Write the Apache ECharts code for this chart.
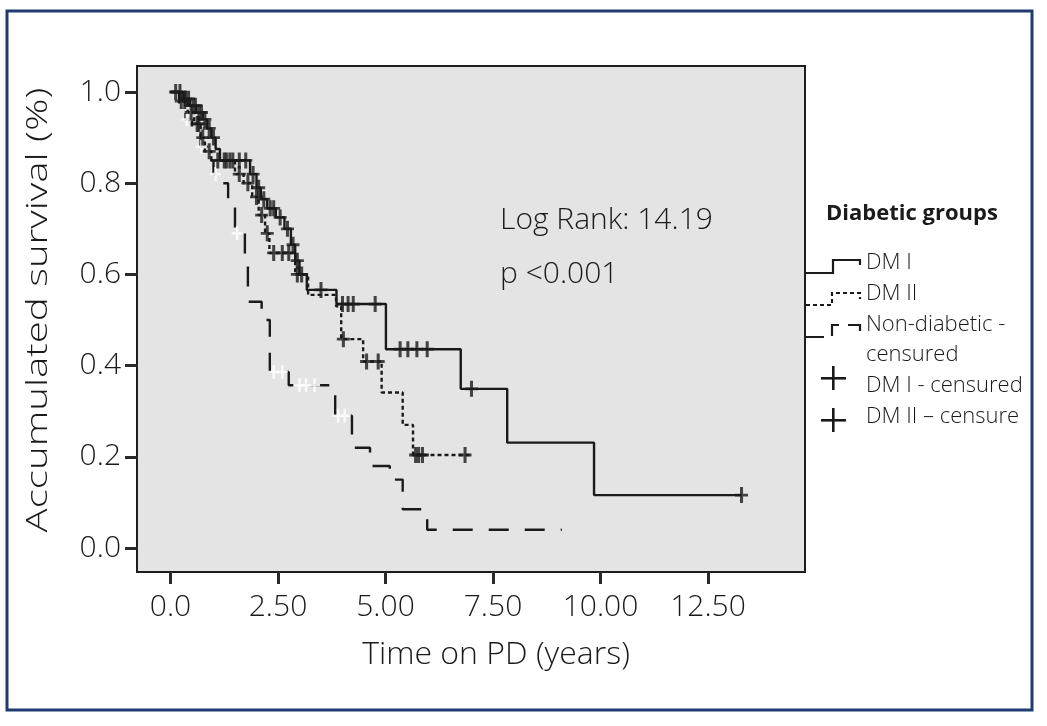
<!DOCTYPE html>
<html>
<head>
<meta charset="utf-8">
<script src="https://cdn.jsdelivr.net/npm/echarts@6/dist/echarts.min.js"></script>
<style>
html,body{margin:0;padding:0;background:#fff;}
#chart{width:1047px;height:726px;}
</style>
</head>
<body>
<div id="chart"></div>
<script>
// ---- data ----
const xTicks = [0, 2.5, 5, 7.5, 10, 12.5];
const xTickLabels = ['0.0', '2.50', '5.00', '7.50', '10.00', '12.50'];
const yTicks = [0, 0.2, 0.4, 0.6, 0.8, 1.0];
const yTickLabels = ['0.0', '0.2', '0.4', '0.6', '0.8', '1.0'];

// DM I (solid)
const dm1Times    = [0, 0.3, 0.45, 0.6, 0.75, 0.85, 0.95, 1.05, 1.15, 1.85, 2.0, 2.1, 2.25, 2.45, 2.65, 2.8, 2.9, 3.0, 3.17, 3.86, 5.01, 6.75, 7.83, 9.85];
const dm1Survival = [1.0, 0.985, 0.97, 0.955, 0.94, 0.92, 0.9, 0.875, 0.85, 0.82, 0.79, 0.765, 0.745, 0.725, 0.7, 0.665, 0.63, 0.6, 0.566, 0.535, 0.436, 0.349, 0.231, 0.116];
const dm1EndTime = 13.28;
const dm1Censored = [0.12, 0.22, 0.35, 0.42, 0.52, 0.58, 0.66, 0.72, 0.8, 0.9, 1.0, 1.25, 1.38, 1.45, 1.6, 1.75, 1.92, 2.05, 2.17, 2.32, 2.4, 2.55, 2.72, 2.85, 2.95, 3.5, 4.0, 4.13, 4.25, 4.76, 5.34, 5.52, 5.73, 5.97, 7.0, 13.28];

// DM II (dotted)
const dm2Times    = [0, 0.2, 0.4, 0.55, 0.7, 0.8, 0.95, 1.5, 1.7, 1.9, 2.05, 2.2, 2.3, 2.9, 3.2, 3.85, 3.97, 4.48, 4.91, 5.4, 5.64];
const dm2Survival = [1.0, 0.98, 0.955, 0.93, 0.9, 0.87, 0.85, 0.82, 0.8, 0.77, 0.73, 0.69, 0.647, 0.6, 0.555, 0.53, 0.458, 0.409, 0.341, 0.27, 0.204];
const dm2EndTime = 6.96;
const dm2Censored = [0.25, 0.33, 0.48, 0.62, 0.66, 0.75, 0.9, 1.1, 1.3, 1.6, 1.8, 2.0, 2.12, 2.25, 2.4, 2.6, 2.75, 2.95, 3.05, 4.02, 4.56, 4.83, 5.7, 5.77, 5.86, 6.85];

// Non-diabetic (long dash)
const ndTimes    = [0, 0.2, 0.35, 0.5, 0.7, 0.85, 1.0, 1.15, 1.34, 1.5, 1.73, 1.8, 2.12, 2.31, 2.75, 3.83, 4.22, 4.64, 5.1, 5.4, 5.97];
const ndSurvival = [1.0, 0.97, 0.94, 0.91, 0.88, 0.85, 0.82, 0.8, 0.75, 0.69, 0.62, 0.54, 0.5, 0.386, 0.357, 0.29, 0.22, 0.18, 0.15, 0.085, 0.04];
const ndEndTime = 9.1;
const ndCensored = [0.38, 0.72, 1.05, 1.55, 2.4, 2.6, 3.0, 3.15, 3.35, 3.9, 4.05];

// ---- helpers ----
function stepData(times, surv, end) {
  const d = times.map((t, i) => [t, surv[i]]);
  d.push([end, surv[surv.length - 1]]);
  return d;
}
function survAt(times, surv, t) {
  let s = surv[0];
  for (let i = 0; i < times.length; i++) { if (times[i] <= t) s = surv[i]; }
  return s;
}
function censorData(cens, times, surv) {
  return cens.map(t => [t, survAt(times, surv, t)]);
}
const plusPath = 'path://M4.6,0 H7.4 V16 H4.6 Z M0,6.6 H12 V9.4 H0 Z';
const FONT = 'Open Sans';
const ink = '#1a1a1a';

const chart = echarts.init(document.getElementById('chart'), null, {renderer: 'canvas'});
const option = {
  backgroundColor: '#ffffff',
  animation: false,
  grid: {
    left: 137, right: 242, top: 66, bottom: 154,
    show: true, backgroundColor: '#e4e4e4', borderColor: '#1e1e1e', borderWidth: 2
  },
  xAxis: {
    type: 'value', min: -0.779, max: 14.756,
    axisLine: {show: false, onZero: false},
    axisTick: {show: true, inside: false, length: 12, customValues: xTicks, lineStyle: {color: '#2a2a2a', width: 3}},
    axisLabel: {
      customValues: xTicks, margin: 20,
      fontFamily: FONT, fontSize: 30, fontWeight: 300, color: ink,
      formatter: v => { const i = xTicks.findIndex(t => Math.abs(t - v) < 1e-6); return i >= 0 ? xTickLabels[i] : ''; }
    },
    splitLine: {show: false}
  },
  yAxis: {
    type: 'value', min: -0.0526, max: 1.057,
    axisLine: {show: false, onZero: false},
    axisTick: {show: true, inside: false, length: 12, customValues: yTicks, lineStyle: {color: '#2a2a2a', width: 3}},
    axisLabel: {
      customValues: yTicks, margin: 16,
      fontFamily: FONT, fontSize: 30, fontWeight: 300, color: ink,
      formatter: v => { const i = yTicks.findIndex(t => Math.abs(t - v) < 1e-6); return i >= 0 ? yTickLabels[i] : ''; }
    },
    splitLine: {show: false}
  },
  series: [
    {
      name: 'Non-diabetic', type: 'line', step: 'end', symbol: 'none', z: 2,
      data: stepData(ndTimes, ndSurvival, ndEndTime),
      lineStyle: {color: ink, width: 2.4, type: [20, 16]}
    },
    {
      name: 'DM II', type: 'line', step: 'end', symbol: 'none', z: 3,
      data: stepData(dm2Times, dm2Survival, dm2EndTime),
      lineStyle: {color: ink, width: 2.4, type: [4, 3]}
    },
    {
      name: 'DM I', type: 'line', step: 'end', symbol: 'none', z: 4,
      data: stepData(dm1Times, dm1Survival, dm1EndTime),
      lineStyle: {color: ink, width: 2.4, type: 'solid'}
    },
    {
      name: 'Non-diabetic - censured', type: 'scatter', symbol: plusPath, symbolSize: [11, 14], z: 5,
      data: censorData(ndCensored, ndTimes, ndSurvival),
      itemStyle: {color: '#fbfbfb', opacity: 0.9}
    },
    {
      name: 'DM II - censure', type: 'scatter', symbol: plusPath, symbolSize: [13, 16], z: 6,
      data: censorData(dm2Censored, dm2Times, dm2Survival),
      itemStyle: {color: ink}
    },
    {
      name: 'DM I - censured', type: 'scatter', symbol: plusPath, symbolSize: [13, 16], z: 7,
      data: censorData(dm1Censored, dm1Times, dm1Survival),
      itemStyle: {color: ink}
    }
  ],
  graphic: [
    // outer blue frame
    {type: 'rect', shape: {x: 7, y: 11, width: 1025, height: 699}, style: {fill: 'none', stroke: '#1f3b6f', lineWidth: 3}, z: 10},
    // axis titles
    {type: 'text', x: 38, y: 310, rotation: Math.PI / 2, scaleX: 1.34, scaleY: 1,
     style: {text: 'Accumulated survival (%)', fontFamily: FONT, fontSize: 30, fontWeight: 300, fill: ink, align: 'center', verticalAlign: 'middle'}, z: 10},
    {type: 'text', x: 496, y: 655,
     style: {text: 'Time on PD (years)', fontFamily: FONT, fontSize: 32, fontWeight: 300, fill: ink, align: 'center', verticalAlign: 'middle'}, z: 10},
    // annotation
    {type: 'text', left: 500, top: 205, style: {text: 'Log Rank: 14.19', fontFamily: FONT, fontSize: 30, fontWeight: 300, fill: ink}, z: 10},
    {type: 'text', left: 500, top: 259, style: {text: 'p <0.001', fontFamily: FONT, fontSize: 30, fontWeight: 300, fill: ink}, z: 10},
    // legend
    {type: 'text', left: 826, top: 203, style: {text: 'Diabetic groups', fontFamily: FONT, fontSize: 22, fontWeight: 'bold', fill: ink}, z: 10},
    {type: 'polyline', shape: {points: [[806, 273], [833, 273], [833, 260], [860, 260], [860, 265]]}, style: {stroke: ink, lineWidth: 2.2, fill: null}, z: 10},
    {type: 'polyline', shape: {points: [[806, 305], [832, 305], [832, 293], [860, 293], [860, 299]]}, style: {stroke: ink, lineWidth: 2.2, fill: null, lineDash: [4, 3]}, z: 10},
    {type: 'polyline', shape: {points: [[806, 337], [832, 337], [832, 325], [860, 325], [860, 338]]}, style: {stroke: ink, lineWidth: 2.2, fill: null, lineDash: [18, 9]}, z: 10},
    {type: 'text', left: 866, top: 252, style: {text: 'DM I', fontFamily: FONT, fontSize: 22, fontWeight: 300, fill: ink}, z: 10},
    {type: 'text', left: 866, top: 283, style: {text: 'DM II', fontFamily: FONT, fontSize: 22, fontWeight: 300, fill: ink}, z: 10},
    {type: 'text', left: 866, top: 314, style: {text: 'Non-diabetic -', fontFamily: FONT, fontSize: 22, fontWeight: 300, fill: ink}, z: 10},
    {type: 'text', left: 866, top: 344, style: {text: 'censured', fontFamily: FONT, fontSize: 22, fontWeight: 300, fill: ink}, z: 10},
    {type: 'text', left: 866, top: 375, style: {text: 'DM I - censured', fontFamily: FONT, fontSize: 22, fontWeight: 300, fill: ink}, z: 10},
    {type: 'text', left: 866, top: 406, style: {text: 'DM II \u2013 censure', fontFamily: FONT, fontSize: 22, fontWeight: 300, fill: ink}, z: 10},
    {type: 'rect', shape: {x: 832, y: 366, width: 2.6, height: 24}, style: {fill: ink}, z: 10},
    {type: 'rect', shape: {x: 821, y: 377, width: 25, height: 2.6}, style: {fill: ink}, z: 10},
    {type: 'rect', shape: {x: 832, y: 408, width: 2.6, height: 24}, style: {fill: ink}, z: 10},
    {type: 'rect', shape: {x: 821, y: 419, width: 25, height: 2.6}, style: {fill: ink}, z: 10}
  ]
};
chart.setOption(option);
</script>
</body>
</html>
